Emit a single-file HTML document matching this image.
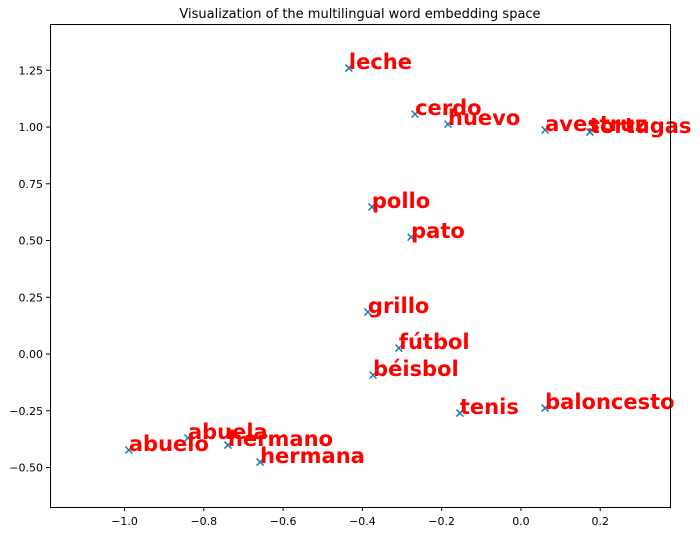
<!DOCTYPE html>
<html><head><meta charset="utf-8"><style>
html,body{margin:0;padding:0;background:#fff;}
svg{display:block;font-family:"DejaVu Sans","Liberation Sans",sans-serif;}
</style></head><body>
<svg id="chart" width="700" height="533"></svg>
<script>
const words = ["leche","cerdo","huevo","avestruz","tortugas","pollo","pato","grillo","fútbol","béisbol","tenis","baloncesto","abuela","abuelo","hermano","hermana"];
const xValues = [-0.434,-0.267,-0.184,0.061,0.174,-0.376,-0.277,-0.386,-0.308,-0.373,-0.154,0.061,-0.84,-0.989,-0.739,-0.658];
const yValues = [1.26,1.057,1.013,0.987,0.978,0.648,0.515,0.185,0.026,-0.093,-0.26,-0.238,-0.37,-0.423,-0.401,-0.476];
const xTicks = [-1.0,-0.8,-0.6,-0.4,-0.2,0.0,0.2];
const xTickLabels = ["−1.0","−0.8","−0.6","−0.4","−0.2","0.0","0.2"];
const yTicks = [-0.5,-0.25,0,0.25,0.5,0.75,1.0,1.25];
const yTickLabels = ["−0.50","−0.25","0.00","0.25","0.50","0.75","1.00","1.25"];

const L=50,R=670,T=24,B=507;
const xMin=-1.188,xMax=0.376,yMin=-0.674,yMax=1.454;
const sx=v=>L+(v-xMin)/(xMax-xMin)*(R-L);
const sy=v=>B-(v-yMin)/(yMax-yMin)*(B-T);
const svg=document.getElementById('chart');
const NS='http://www.w3.org/2000/svg';
function mk(tag,attrs,parent){const e=document.createElementNS(NS,tag);for(const k in attrs)e.setAttribute(k,attrs[k]);(parent||svg).appendChild(e);return e;}

const title=mk('text',{x:(L+R)/2,y:18,'text-anchor':'middle','font-size':'13',fill:'#000'});


title.textContent='Visualization of the multilingual word embedding space';

xTicks.forEach((v,i)=>{
  const g=mk('g',{});
  
  
  mk('line',{x1:sx(v),x2:sx(v),y1:B,y2:B+4,stroke:'#000','stroke-width':1},g);
  const t=mk('text',{x:sx(v),y:B+18,'text-anchor':'middle','font-size':'11',fill:'#000'},g);
  t.textContent=xTickLabels[i];
});
yTicks.forEach((v,i)=>{
  const g=mk('g',{});
  
  
  mk('line',{x1:L-4,x2:L,y1:sy(v),y2:sy(v),stroke:'#000','stroke-width':1},g);
  const t=mk('text',{x:L-7,y:sy(v)+4,'text-anchor':'end','font-size':'11',fill:'#000'},g);
  t.textContent=yTickLabels[i];
});

words.forEach((w,i)=>{
  const x=sx(xValues[i]),y=sy(yValues[i]);
  const g=mk('g',{});
  
  
  mk('path',{d:`M${x-3.5},${y-3.5}L${x+3.5},${y+3.5}M${x-3.5},${y+3.5}L${x+3.5},${y-3.5}`,stroke:'#1f77b4','stroke-width':1.5},g);
  const t=mk('text',{x:x,y:y+1,'font-size':'21','font-weight':'bold',fill:'#ff0000'},g);
  t.textContent=w;
});

const frame=mk('rect',{x:L+0.5,y:T+0.5,width:R-L,height:B-T,fill:'none',stroke:'#000','stroke-width':1});


</script>
</body></html>
